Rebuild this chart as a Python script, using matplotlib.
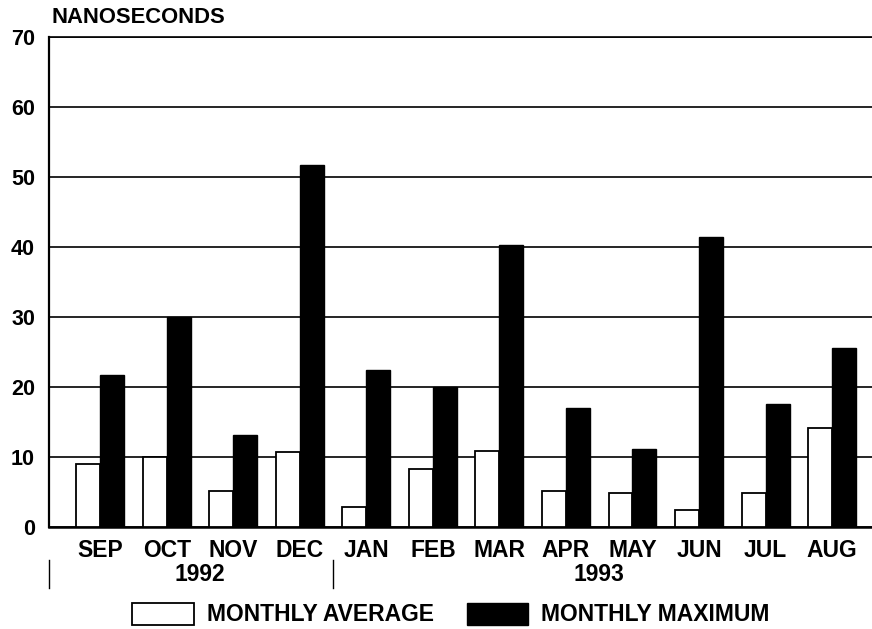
import numpy as np
import matplotlib
matplotlib.use('Agg')
import matplotlib.pyplot as plt
from matplotlib.patches import Patch

plt.rcParams['font.family'] = ['Liberation Sans', 'DejaVu Sans']
plt.rcParams['font.weight'] = 'bold'

months = ['SEP', 'OCT', 'NOV', 'DEC', 'JAN', 'FEB', 'MAR', 'APR', 'MAY', 'JUN', 'JUL', 'AUG']
monthly_avg = [9.0, 10.0, 5.1, 10.7, 2.8, 8.3, 10.9, 5.2, 4.8, 2.4, 4.9, 14.1]
monthly_max = [21.7, 30.0, 13.2, 51.7, 22.4, 20.0, 40.3, 17.0, 11.2, 41.4, 17.5, 25.6]
years = ['1992', '1993']
year_centers = [1.5, 7.5]
year_breaks = [-0.77, 3.5]

x = np.arange(len(months))
w = 0.36

fig = plt.figure(figsize=(8.72, 6.29), dpi=100)
ax = fig.add_axes([0.0562, 0.1622, 0.9438, 0.779])

ax.bar(x - w / 2, monthly_avg, width=w, color='white', edgecolor='black', linewidth=1.3, zorder=3)
ax.bar(x + w / 2, monthly_max, width=w, color='black', edgecolor='black', linewidth=1.0, zorder=3)

ax.set_xlim(-0.77, 11.6)
ax.set_ylim(0, 70)
ax.set_yticks(range(0, 71, 10))
ax.yaxis.grid(True, color='black', linewidth=1.2, zorder=0)
ax.set_axisbelow(True)
ax.set_xticks(x)
ax.set_xticklabels(months, fontsize=16.5, fontweight='bold')
ax.tick_params(axis='x', length=0, pad=9)
ax.tick_params(axis='y', length=0, pad=10, labelsize=15.5)
for lab in ax.get_yticklabels():
    lab.set_fontweight('bold')

ax.spines['right'].set_visible(False)
ax.spines['top'].set_linewidth(1.2)
ax.spines['left'].set_linewidth(1.6)
ax.spines['bottom'].set_linewidth(1.8)

ax.text(-0.73, 71.3, 'NANOSECONDS', fontsize=15.8, fontweight='bold', ha='left', va='bottom')

# year labels below months
trans = ax.get_xaxis_transform()
for yr, xc in zip(years, year_centers):
    ax.text(xc, -0.097, yr, transform=trans, fontsize=16.5, fontweight='bold', ha='center', va='center')
for xb in year_breaks:
    ax.plot([xb, xb], [-0.067, -0.124], transform=trans, color='black', linewidth=1.0, clip_on=False)

handles = [Patch(facecolor='white', edgecolor='black', linewidth=1.3, label='MONTHLY AVERAGE'),
           Patch(facecolor='black', edgecolor='black', label='MONTHLY MAXIMUM')]
fig.legend(handles=handles, loc='center', bbox_to_anchor=(0.517, 0.023), ncol=2, frameon=False,
           prop={'size': 16.5, 'weight': 'bold'}, handlelength=2.7, handleheight=1.1,
           handletextpad=0.56, columnspacing=1.43, borderpad=0)

fig.savefig('out.png', dpi=100)
